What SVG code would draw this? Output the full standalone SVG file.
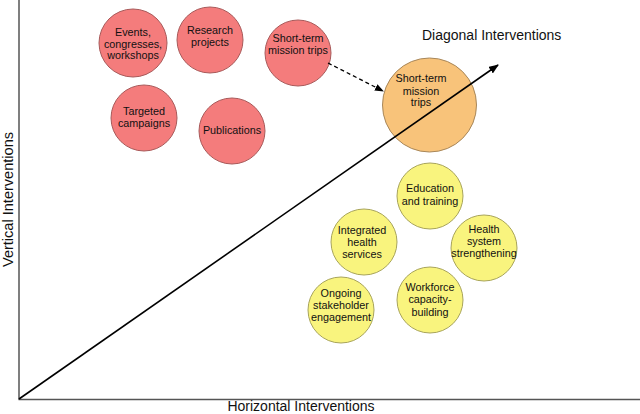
<svg xmlns="http://www.w3.org/2000/svg" width="640" height="414" viewBox="0 0 640 414">
<defs>
<marker id="ah" markerWidth="10" markerHeight="8" refX="9" refY="4" orient="auto" markerUnits="userSpaceOnUse">
<path d="M0,0 L10,4 L0,8 Z" fill="#000"/>
</marker>
<marker id="ah2" markerWidth="9" markerHeight="7" refX="8" refY="3.5" orient="auto" markerUnits="userSpaceOnUse">
<path d="M0,0 L9,3.5 L0,7 Z" fill="#000"/>
</marker>
</defs>
<style>
text{font-family:"Liberation Sans",Arial,sans-serif;fill:#111;}
.n{font-size:10.8px;text-anchor:middle;}
.red{fill:#F47C7C;stroke:#A85A5A;stroke-width:1;}
.org{fill:#F8C37A;stroke:#A8875A;stroke-width:1;}
.yel{fill:#F9F47E;stroke:#A8A45A;stroke-width:1;}
.lab{font-size:14px;}
</style>
<rect width="640" height="414" fill="#fff"/>
<g id="axes">
<line x1="19" y1="0" x2="19" y2="399.5" stroke="#555" stroke-width="1.5"/>
<line x1="18.5" y1="399.5" x2="640" y2="399.5" stroke="#555" stroke-width="1.5"/>
</g>
<g id="labels">
<text class="lab" x="301" y="411" text-anchor="middle">Horizontal Interventions</text>
<text class="lab" x="0" y="0" text-anchor="middle" textLength="135" lengthAdjust="spacingAndGlyphs" transform="translate(13,199.5) rotate(-90)">Vertical Interventions</text>
<text class="lab" x="422" y="40">Diagonal Interventions</text>
</g>
<g id="n-events"><circle class="red" cx="133" cy="43" r="34"/><text class="n" x="133" y="36">Events,</text><text class="n" x="133" y="48">congresses,</text><text class="n" x="133" y="59">workshops</text></g>
<g id="n-research"><circle class="red" cx="210" cy="40" r="33"/><text class="n" x="210" y="34">Research</text><text class="n" x="210" y="46">projects</text></g>
<g id="n-stm-red"><circle class="red" cx="298" cy="53" r="33"/><text class="n" x="298" y="42">Short-term</text><text class="n" x="298" y="54">mission trips</text></g>
<g id="n-targeted"><circle class="red" cx="144" cy="118" r="33"/><text class="n" x="144" y="115">Targeted</text><text class="n" x="144" y="127">campaigns</text></g>
<g id="n-publications"><circle class="red" cx="232" cy="131" r="33"/><text class="n" x="232" y="134">Publications</text></g>
<g id="n-stm-orange"><circle class="org" cx="429.5" cy="105" r="47"/><text class="n" x="421" y="82">Short-term</text><text class="n" x="421" y="95">mission</text><text class="n" x="421" y="106">trips</text></g>
<g id="n-education"><circle class="yel" cx="430" cy="196" r="33"/><text class="n" x="430" y="192">Education</text><text class="n" x="430" y="205">and training</text></g>
<g id="n-integrated"><circle class="yel" cx="364" cy="242" r="33"/><text class="n" x="362" y="234">Integrated</text><text class="n" x="362" y="246">health</text><text class="n" x="362" y="258">services</text></g>
<g id="n-health"><circle class="yel" cx="484" cy="248" r="33"/><text class="n" x="484" y="233">Health</text><text class="n" x="484" y="245">system</text><text class="n" x="484" y="257">strengthening</text></g>
<g id="n-ongoing"><circle class="yel" cx="341" cy="310" r="33"/><text class="n" x="341" y="297">Ongoing</text><text class="n" x="341" y="309">stakeholder</text><text class="n" x="341" y="321">engagement</text></g>
<g id="n-workforce"><circle class="yel" cx="430" cy="300" r="33"/><text class="n" x="430" y="291">Workforce</text><text class="n" x="430" y="303">capacity-</text><text class="n" x="430" y="316">building</text></g>
<g id="connectors">
<line x1="19" y1="399" x2="498" y2="65" stroke="#000" stroke-width="1.6" marker-end="url(#ah)"/>
<line x1="328" y1="63" x2="383" y2="91" stroke="#000" stroke-width="1.3" stroke-dasharray="4,3" marker-end="url(#ah2)"/>
</g>
</svg>
